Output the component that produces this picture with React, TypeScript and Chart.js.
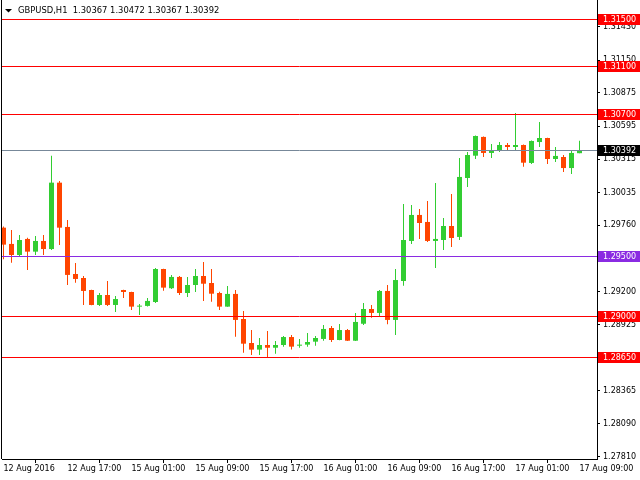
import React, { useEffect, useRef } from "react";
import { Chart, registerables } from "chart.js";

Chart.register(...registerables);

const symbolTitle = "GBPUSD,H1";

const opens = [1.29740, 1.29603, 1.29510, 1.29645, 1.29538, 1.29628, 1.29560, 1.30119, 1.29746, 1.29350, 1.29316, 1.29215, 1.29089, 1.29173, 1.29089, 1.29215, 1.29198, 1.29075, 1.29081, 1.29114, 1.29392, 1.29230, 1.29325, 1.29190, 1.29257, 1.29333, 1.29274, 1.29190, 1.29075, 1.29182, 1.28971, 1.28769, 1.28713, 1.28752, 1.28729, 1.28752, 1.28819, 1.28746, 1.28755, 1.28780, 1.28803, 1.28895, 1.28794, 1.28878, 1.28788, 1.28931, 1.29055, 1.29022, 1.29207, 1.28963, 1.29291, 1.29628, 1.29847, 1.29788, 1.29628, 1.29636, 1.29754, 1.29662, 1.30158, 1.30346, 1.30504, 1.30369, 1.30394, 1.30436, 1.30419, 1.30436, 1.30285, 1.30461, 1.30495, 1.30318, 1.30335, 1.30242, 1.30367];
const highs = [1.29750, 1.29720, 1.29678, 1.29656, 1.29670, 1.29678, 1.30346, 1.30133, 1.29805, 1.29443, 1.29333, 1.29218, 1.29190, 1.29291, 1.29165, 1.29218, 1.29200, 1.29097, 1.29148, 1.29400, 1.29395, 1.29342, 1.29333, 1.29325, 1.29392, 1.29451, 1.29392, 1.29201, 1.29249, 1.29215, 1.29038, 1.28878, 1.28811, 1.28870, 1.28786, 1.28828, 1.28836, 1.28803, 1.28853, 1.28828, 1.28920, 1.28912, 1.28929, 1.28887, 1.29022, 1.29106, 1.29089, 1.29215, 1.29257, 1.29392, 1.29939, 1.29931, 1.29897, 1.29965, 1.30116, 1.29821, 1.30024, 1.30327, 1.30377, 1.30515, 1.30507, 1.30445, 1.30461, 1.30453, 1.30706, 1.30440, 1.30473, 1.30630, 1.30498, 1.30419, 1.30352, 1.30386, 1.30472];
const lows = [1.29474, 1.29445, 1.29496, 1.29384, 1.29510, 1.29510, 1.29552, 1.29594, 1.29257, 1.29277, 1.29089, 1.29086, 1.29081, 1.29081, 1.29030, 1.29148, 1.29047, 1.29005, 1.29077, 1.29106, 1.29209, 1.29224, 1.29173, 1.29156, 1.29198, 1.29123, 1.29117, 1.29047, 1.29073, 1.28822, 1.28687, 1.28668, 1.28668, 1.28649, 1.28679, 1.28738, 1.28713, 1.28729, 1.28738, 1.28746, 1.28788, 1.28777, 1.28791, 1.28786, 1.28786, 1.28920, 1.28982, 1.28990, 1.28926, 1.28836, 1.29251, 1.29603, 1.29645, 1.29619, 1.29400, 1.29552, 1.29577, 1.29636, 1.30083, 1.30318, 1.30335, 1.30327, 1.30377, 1.30394, 1.30394, 1.30253, 1.30276, 1.30419, 1.30276, 1.30293, 1.30209, 1.30192, 1.30367];
const closes = [1.29597, 1.29510, 1.29636, 1.29538, 1.29628, 1.29560, 1.30119, 1.29740, 1.29342, 1.29308, 1.29207, 1.29089, 1.29173, 1.29089, 1.29139, 1.29198, 1.29075, 1.29083, 1.29123, 1.29392, 1.29235, 1.29325, 1.29190, 1.29257, 1.29333, 1.29268, 1.29184, 1.29075, 1.29182, 1.28963, 1.28763, 1.28713, 1.28752, 1.28729, 1.28752, 1.28819, 1.28738, 1.28755, 1.28777, 1.28811, 1.28887, 1.28794, 1.28878, 1.28788, 1.28946, 1.29055, 1.29022, 1.29207, 1.28963, 1.29299, 1.29636, 1.29847, 1.29779, 1.29628, 1.29645, 1.29754, 1.29653, 1.30167, 1.30352, 1.30512, 1.30369, 1.30394, 1.30436, 1.30419, 1.30436, 1.30287, 1.30470, 1.30495, 1.30318, 1.30344, 1.30242, 1.30369, 1.30392];

const timeLabels = ["12 Aug 2016", "12 Aug 17:00", "15 Aug 01:00", "15 Aug 09:00", "15 Aug 17:00", "16 Aug 01:00", "16 Aug 09:00", "16 Aug 17:00", "17 Aug 01:00", "17 Aug 09:00"];
const timeLabelBars = [0, 8, 16, 24, 32, 40, 48, 56, 64, 72];

const priceTicks = [1.31430, 1.31150, 1.30875, 1.30595, 1.30315, 1.30035, 1.29760, 1.29480, 1.29200, 1.28925, 1.28645, 1.28365, 1.28090, 1.27810];

const levelPrices = [1.31500, 1.31100, 1.30700, 1.29500, 1.29000, 1.28650];
const levelKinds = ["red", "red", "red", "purple", "red", "red"];
const bidPrice = 1.30392;

const Y_MIN = 1.27792;
const Y_MAX = 1.31657;
const X_MIN = -0.1875;
const X_MAX = 74.1875;

const BULL = "#32CD32";
const BEAR = "#FF4500";
const FONT = "DejaVu Sans";

export default function App() {
  const ref = useRef<HTMLCanvasElement | null>(null);

  useEffect(() => {
    const canvas = ref.current;
    if (!canvas) return;
    document.body.style.margin = "0";

    const colors = opens.map((o, i) => (closes[i] >= o ? BULL : BEAR));
    const wickData = opens.map((_, i) => ({ x: i, y: [lows[i], highs[i]] }));
    const bodyData = opens.map((o, i) => ({ x: i, y: [o, closes[i]] }));

    const overlay = {
      id: "mt4overlay",
      afterDatasetsDraw(chart: any) {
        const { ctx, chartArea, scales } = chart;
        const y = scales.y;
        ctx.save();
        ctx.lineWidth = 1;
        const drawLine = (p: number, color: string) => {
          const py = Math.round(y.getPixelForValue(p)) + 0.5;
          ctx.strokeStyle = color;
          ctx.beginPath();
          ctx.moveTo(chartArea.left, py);
          ctx.lineTo(chartArea.right, py);
          ctx.stroke();
        };
        levelPrices.forEach((p, i) => drawLine(p, levelKinds[i] === "purple" ? "#8A2BE2" : "#FF0000"));
        drawLine(bidPrice, "#778899");
        ctx.strokeStyle = "#000";
        ctx.beginPath();
        ctx.moveTo(chartArea.left - 0.5, 0);
        ctx.lineTo(chartArea.left - 0.5, chartArea.bottom);
        ctx.stroke();
        ctx.restore();
      },
      afterDraw(chart: any) {
        const { ctx, chartArea, scales } = chart;
        const y = scales.y;
        ctx.save();
        ctx.font = `8px "${FONT}"`;
        ctx.textBaseline = "middle";
        ctx.textAlign = "left";
        const drawTag = (p: number, bg: string) => {
          const py = Math.round(y.getPixelForValue(p));
          ctx.fillStyle = bg;
          ctx.fillRect(chartArea.right + 1, py - 5, 640 - chartArea.right - 1, 11);
          ctx.fillStyle = "#FFFFFF";
          ctx.fillText(p.toFixed(5), chartArea.right + 6, py + 0.5);
        };
        levelPrices.forEach((p, i) => drawTag(p, levelKinds[i] === "purple" ? "#8A2BE2" : "#FF0000"));
        drawTag(bidPrice, "#000000");

        const last = opens.length - 1;
        ctx.fillStyle = "#000";
        ctx.beginPath();
        ctx.moveTo(5, 9);
        ctx.lineTo(12, 9);
        ctx.lineTo(8.5, 12.5);
        ctx.closePath();
        ctx.fill();
        ctx.font = `8.4px "${FONT}"`;
        const header = `${symbolTitle}  ${opens[last].toFixed(5)} ${highs[last].toFixed(5)} ${lows[last].toFixed(5)} ${closes[last].toFixed(5)}`;
        ctx.fillText(header, 18, 10.5);
        ctx.restore();
      },
    };

    const chart = new Chart(canvas, {
      type: "bar",
      data: {
        datasets: [
          {
            label: "wick",
            data: wickData as any,
            backgroundColor: colors,
            barThickness: 1,
            grouped: false,
            borderWidth: 0,
            inflateAmount: 0,
            minBarLength: 1,
          } as any,
          {
            label: "body",
            data: bodyData as any,
            backgroundColor: colors,
            barThickness: 5,
            grouped: false,
            borderWidth: 0,
            inflateAmount: 0,
            minBarLength: 1,
          } as any,
        ],
      },
      options: {
        responsive: false,
        animation: false,
        devicePixelRatio: 1,
        layout: { padding: { left: 2, top: 0, right: 0, bottom: 0 } },
        plugins: { legend: { display: false }, tooltip: { enabled: false }, title: { display: false } },
        font: { family: FONT, size: 8 },
        scales: {
          x: {
            type: "linear",
            min: X_MIN,
            max: X_MAX,
            offset: false,
            grid: { drawOnChartArea: false, drawTicks: true, tickLength: 4, color: "#000" },
            border: { display: true, color: "#000", width: 1 },
            ticks: {
              autoSkip: false,
              maxRotation: 0,
              minRotation: 0,
              align: "start",
              padding: 1,
              color: "#000",
              font: { family: FONT, size: 8 },
              callback: (v: any) => {
                const idx = timeLabelBars.indexOf(Number(v));
                return idx >= 0 ? timeLabels[idx] : "";
              },
            },
            afterBuildTicks: (scale: any) => {
              scale.ticks = timeLabelBars.map((v) => ({ value: v }));
            },
            afterFit: (scale: any) => {
              scale.height = 21;
              scale.paddingLeft = 0;
              scale.paddingRight = 0;
            },
          } as any,
          y: {
            type: "linear",
            position: "right",
            min: Y_MIN,
            max: Y_MAX,
            grid: { drawOnChartArea: false, drawTicks: true, tickLength: 3, color: "#000" },
            border: { display: true, color: "#000", width: 1 },
            ticks: {
              autoSkip: false,
              padding: 3,
              color: "#000",
              font: { family: FONT, size: 8 },
              callback: (v: any) => Number(v).toFixed(5),
            },
            afterBuildTicks: (scale: any) => {
              scale.ticks = priceTicks.map((v) => ({ value: v }));
            },
            afterFit: (scale: any) => {
              scale.width = 43;
              scale.paddingTop = 0;
              scale.paddingBottom = 0;
            },
          } as any,
        },
      } as any,
      plugins: [overlay],
    });

    return () => chart.destroy();
  }, []);

  return (
    <div style={{ position: "absolute", left: 0, top: 0, width: 640, height: 480, background: "#fff" }}>
      <canvas ref={ref} width={640} height={480} style={{ width: 640, height: 480, display: "block" }} />
    </div>
  );
}
